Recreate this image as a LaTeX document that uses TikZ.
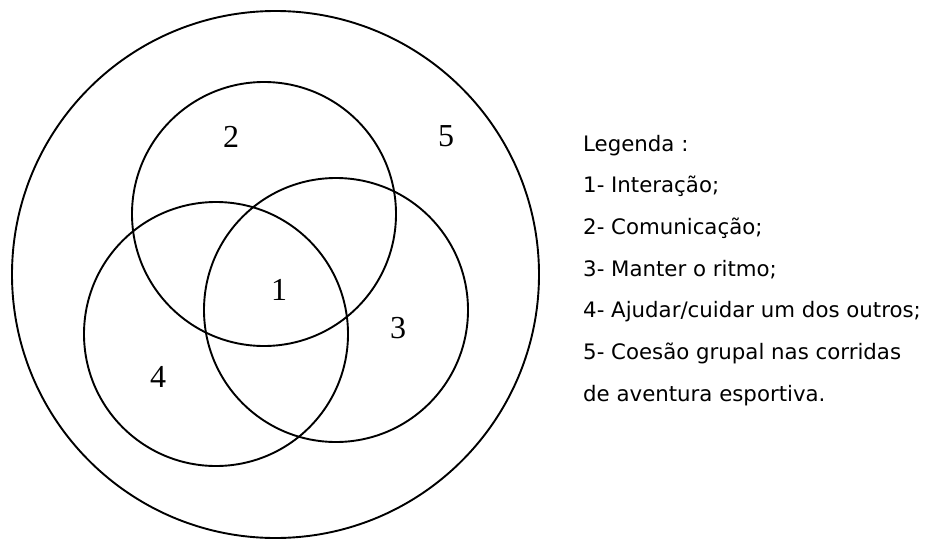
\documentclass[tikz,border=0pt]{standalone}
\usepackage{fontspec}
\setmainfont{Liberation Serif}
\newfontfamily\legendfont{DejaVu Sans}
\begin{document}
\begin{tikzpicture}[x=1pt,y=-1pt,
  ring/.style={draw=black, line width=1.9pt, circle, inner sep=0pt},
  region/.style={font=\fontsize{32}{32}\selectfont, inner sep=0pt},
  legendline/.style={anchor=base west, inner sep=0pt, font=\legendfont\fontsize{21.3}{21.3}\selectfont}]
  \useasboundingbox (0,0) rectangle (929,541);
  % outer set and the three overlapping sets
  \node[ring, minimum size=527pt] (outer) at (275.5,274.5) {};
  \node[ring, minimum size=264pt] (com) at (264,214) {};
  \node[ring, minimum size=264pt] (rit) at (336,310) {};
  \node[ring, minimum size=264pt] (aju) at (216,334) {};
  % region numbers
  \node[region] (n1) at (279,290) {1};
  \node[region] (n2) at (231,137) {2};
  \node[region] (n3) at (398,328) {3};
  \node[region] (n4) at (158,377) {4};
  \node[region] (n5) at (446,136) {5};
  % legend
  \node[legendline] (l0) at (583,151) {Legenda :};
  \node[legendline] (l1) at (583,192.7) {1- Interação;};
  \node[legendline] (l2) at (583,234.4) {2- Comunicação;};
  \node[legendline] (l3) at (583,276.1) {3- Manter o ritmo;};
  \node[legendline] (l4) at (583,317.8) {4- Ajudar/cuidar um dos outros;};
  \node[legendline] (l5) at (583,359.5) {5- Coesão grupal nas corridas};
  \node[legendline] (l6) at (583,401.2) {de aventura esportiva.};
\end{tikzpicture}
\end{document}
